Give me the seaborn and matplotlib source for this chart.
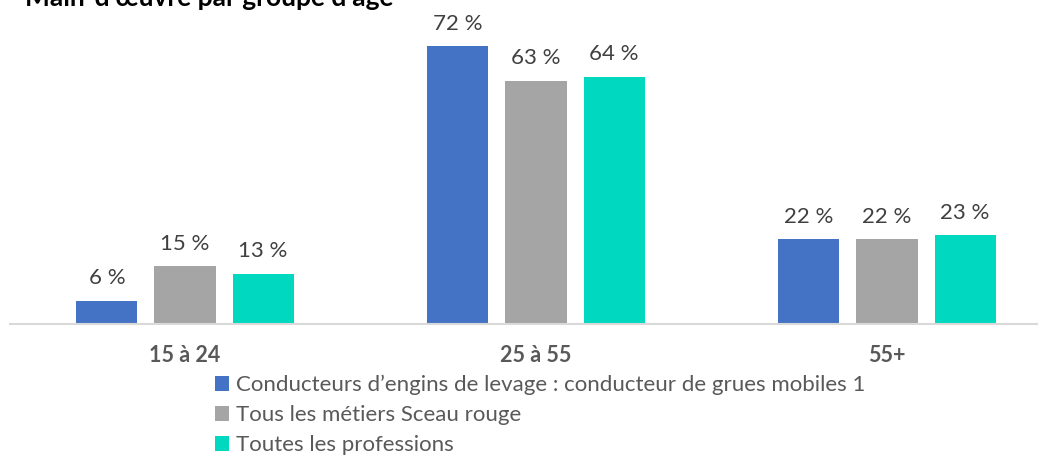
import pandas as pd
import matplotlib.pyplot as plt
import seaborn as sns

# Data
groups = ["15 à 24", "25 à 55", "55+"]
series = [
    "Conducteurs d’engins de levage : conducteur de grues mobiles 1",
    "Tous les métiers Sceau rouge",
    "Toutes les professions",
]
grues = [6, 72, 22]
sceau_rouge = [15, 63, 22]
toutes = [13, 64, 23]
colors = ["#4472C4", "#A5A5A5", "#00D9C0"]

df = pd.DataFrame({
    "groupe": groups * 3,
    "serie": [s for s in series for _ in groups],
    "valeur": grues + sceau_rouge + toutes,
})

sns.set_style("white")
plt.rcParams["font.family"] = ["Lato", "DejaVu Sans"]

fig = plt.figure(figsize=(10.38, 4.57), dpi=100)
# axes: data -0.5..2.5 over 1053 px, baseline at 324 px from top
ax = fig.add_axes([9.5 / 1038, 133 / 457, 1053 / 1038, 289.5 / 457])

sns.barplot(data=df, x="groupe", y="valeur", hue="serie", order=groups,
            hue_order=series, palette=colors, saturation=1, width=0.667,
            gap=0.218, linewidth=0, ax=ax)

for cont in ax.containers:
    ax.bar_label(cont, labels=[f"{v:.0f} %" for v in cont.datavalues],
                 padding=9, fontsize=16, color="#404040")

ax.set_xlim(-0.5, 2.5)
ax.set_ylim(0, 75)
ax.set_xlabel("")
ax.set_ylabel("")
ax.set_yticks([])
for side in ["top", "right", "left"]:
    ax.spines[side].set_visible(False)
ax.spines["bottom"].set_color("#D9D9D9")
ax.spines["bottom"].set_linewidth(1.5)
ax.tick_params(axis="x", length=0, pad=15)
for lbl in ax.get_xticklabels():
    lbl.set_fontweight("bold")
    lbl.set_fontsize(15.5)
    lbl.set_color("#595959")

handles, labels = ax.get_legend_handles_labels()
ax.legend(handles, labels, loc="upper left", bbox_to_anchor=(215 / 1038, 1 - 375 / 457),
          bbox_transform=fig.transFigure, frameon=False, fontsize=16,
          handlelength=0.65, handleheight=0.65, handletextpad=0.3,
          labelspacing=0.45, labelcolor="#595959", borderpad=0, borderaxespad=0)

fig.text(25 / 1038, 1 - 6 / 457, "Main-d’œuvre par groupe d’âge", fontsize=19,
         fontweight="bold", color="#000000", va="baseline", ha="left")

plt.savefig("out.png", dpi=100)
